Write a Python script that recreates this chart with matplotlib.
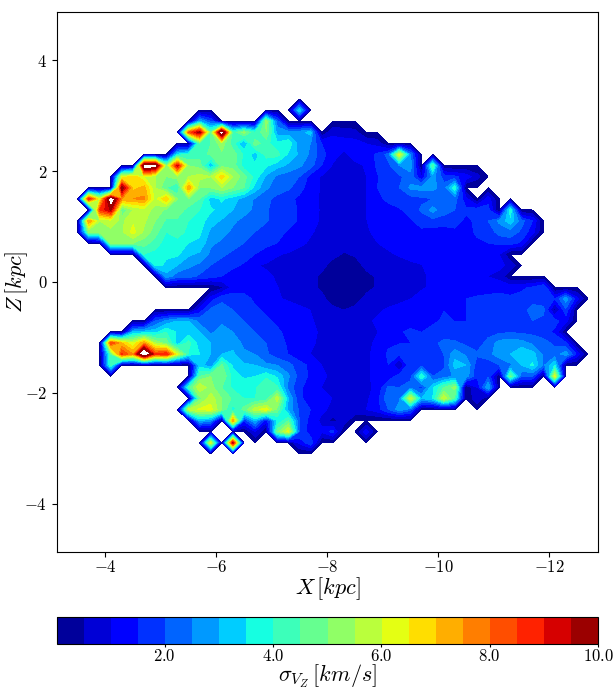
import matplotlib
matplotlib.use('Agg')
import matplotlib.pyplot as plt
import numpy as np

plt.rcParams['mathtext.fontset'] = 'cm'
plt.rcParams['font.family'] = ['DejaVu Serif']

# grid of the map
x_grid = -3.1 - 0.2 * np.arange(50)
z_grid = -4.9 + 0.2 * np.arange(50)

# one row per Z: Z, first X of the row, sigma values going towards -X (0 = no data)
z_rows = [3.1, 2.9, 2.7, 2.5, 2.3, 2.1, 1.9, 1.7, 1.5, 1.3, 1.1, 0.9, 0.7, 0.5, 0.3, 0.1,
          -0.1, -0.3, -0.5, -0.7, -0.9, -1.1, -1.3, -1.5, -1.7, -1.9, -2.1, -2.3, -2.5, -2.7, -2.9]
x_start = [-7.5, -5.7, -5.5, -5.7, -5.3, -4.7, -4.3, -4.3, -3.7, -3.9, -3.7, -3.7, -4.1, -4.7, -4.9, -5.1,
           -6.1, -5.9, -5.7, -4.9, -4.5, -4.1, -4.1, -4.1, -5.7, -5.5, -5.7, -5.5, -5.7, -6.7, -5.9]
sigma_rows = [
    [3.5],
    [3, 2, 0, 0, 0, 0, 5.3, 2.2],
    [8, 9.8, 4.5, 11.6, 4.2, 5.2, 4, 5, 2.8, 2.7, 2.8, 3.2, 0, .9, .8, .7],
    [4.5, 4.5, 5.3, 4.2, 2.9, 4.8, 4.2, 3.6, 3.9, 2.7, 2.5, 1.5, 1.2, 1.2, 1.2, 1, .8],
    [3.6, 4, 4.3, 4.6, 4.9, 4.8, 3.9, 3.2, 4.2, 4.2, 3.4, 2.9, 2.4, 1.7, 1.2, .9, 1.2, 1.2, 1.6, 2.2, 6.2, 2.5],
    [11.2, 11.2, 5, 9.3, 5, 4.8, 3, 4.8, 4.8, 3.7, 3.6, 3.6, 3.2, 2.9, 2.6, 2.2, 1.5, .95, .8, .9, 1.05, 1.6, 1.9,
     2.5, 2.8, 0, 4.5],
    [6, 6.8, 6, 5.5, 5, 5.3, 5.5, 5.7, 5.5, 6.8, 5.5, 4.7, 3.8, 2.9, 2.4, 2.2, 2, 1.3, .95, .8, .7, .85, 1, 1.45,
     1.8, 1.9, 2.3, 1, 2.7, 1.8, 1.6, 1.3, .7],
    [10.1, 6.8, 7.2, 5.5, 4.5, 3.9, 7.5, 5, 5, 5.5, 5, 4.5, 3.3, 2.6, 2.2, 2.1, 1.7, 1.25, .95, .8, .7, .85, 1, 1.5,
     2, 2, 2.6, 2.7, 2.7, 2.2, 3.9],
    [9, 6, 11.3, 7.5, 7.5, 7.6, 5.8, 7, 5, 5, 4.5, 3.2, 3.6, 3.2, 2.8, 2.45, 2.1, 1.9, 1.65, 1.4, 1.15, .95, .8, .6,
     .8, 1, 1.4, 1.6, 1.8, 1.8, 1.9, 2, 2, 2.2, 1.2, 0, 1.3],
    [8.5, 9.6, 4.5, 5.5, 5.8, 5.3, 4.9, 4.8, 4.3, 4, 3.6, 3.3, 3, 2.7, 2.4, 2.05, 1.85, 1.7, 1.45, 1.2, .95, .8, .6,
     .8, 1, 1.2, 1.35, 1.45, 1.7, 2.1, 2.7, 2.2, 2, 1.6, 1.8, 1.7, 0, 3.9],
    [7.5, 5.5, 5.7, 5.4, 5.9, 5.6, 5, 4.4, 4.4, 4, 3.8, 3.2, 2.95, 2.6, 2.35, 2.2, 2.05, 1.8, 1.65, 1.45, 1.15, .95,
     .8, .6, .8, 1, 1.1, 1.3, 1.3, 1.45, 1.7, 1.8, 1.8, 1.7, 1.4, 1.6, 2, 2.6, 3.3, 2.2, 1.5],
    [5, 5.4, 5.4, 5.4, 6.2, 5.4, 4.7, 4, 4.5, 3.7, 3.6, 2.9, 2.7, 2.4, 2.2, 2, 1.8, 1.65, 1.45, 1.25, 1.05, .9, .75,
     .65, .8, .95, 1.1, 1.1, 1.2, 1.2, 1.4, 1.3, 1.2, 1.4, 1.3, 1.6, 1.7, 2.2, 2.3, 1.9, 1.2],
    [5, 5, 5, 4.7, 4.3, 3.7, 3.6, 3.5, 3.4, 2.6, 2.4, 2.2, 2, 1.85, 1.65, 1.5, 1.3, 1.1, .95, .8, .7, .6, .7, .9, 1,
     1.1, 1.1, 1.1, 1.2, 1.3, 1.3, 1.2, 1.3, 1.4, 1.5, 1.6, 1.7, 1.4],
    [4, 3.8, 3.6, 3.6, 3.1, 2.9, 2.4, 2.1, 1.9, 1.7, 1.5, 1.25, 1.05, .95, .85, .75, .65, .6, .48, .55, .75, .85,
     .95, 1.05, 1.1, 1.1, 1.1, 1.1, 1.2, 1.2, 1.3, 1.2, 1],
    [3.7, 3.4, 3, 2.6, 2.4, 2, 1.8, 1.6, 1.45, 1.05, .95, .85, .75, .7, .6, .6, .4, .3, .35, .6, .75, .8, .85, .95, 1,
     1.1, 1.1, 1.1, 1.1, 1.1, 1.1, 1.1, .9],
    [2.8, 2.2, 2.2, 1.9, 1.7, 1.5, 1.3, 1.2, 1.15, 1.1, .95, .7, .7, .6, .45, .3, .25, .3, .4, .55, .8, .85, .9, .97,
     1.05, 1.1, 1.1, 1.1, 1.1, 1, .9],
    [.4, 1.2, 1.25, 1.25, 1.15, 1.02, .85, .75, .6, .45, .3, .25, .3, .4, .55, .8, .85, .9, .98, 1.05, 1.1, 1.2, 1.2,
     1.2, 1.2, 1.2, 1.3, 1.4, 1.6, 2],
    [1.2, 1.9, 1.8, 1.7, 1.4, 1.2, 1.05, .95, .85, .7, .6, .35, .3, .35, .6, .75, .85, .9, 1, 1.1, 1.1, 1.2, 1.3, 1.5,
     1.6, 1.7, 1.8, 1.6, 1.7, 1.8, 1.8, 1.5, 2.8, 1.2],
    [1.2, 2.1, 2.2, 2, 1.8, 1.6, 1.4, 1.3, 1.2, 1.1, 1, .8, .6, .5, .6, .8, .95, 1.05, 1.15, 1.2, 1.45, 1.5, 1.5, 1.5,
     1.5, 1.7, 1.6, 1.6, 1.7, 1.8, 2.2, 2.1, .3, 1.9],
    [2, 2.6, 3, 3, 2.3, 2.4, 2.4, 2.1, 2, 1.8, 1.6, 1.4, 1.2, 1.1, 1.05, .9, .7, .65, .75, .95, 1.05, 1.1, 1.2, 1.3,
     1.4, 1.45, 1.55, 1.5, 1.5, 1.6, 1.7, 1.8, 1.8, 1.9, 2, 1.9, 1.7, 1.2],
    [3, 3.2, 3.3, 4, 3.4, 3.2, 3, 2.4, 2.7, 2.5, 2.2, 2, 1.8, 1.6, 1.35, 1.2, 1.1, .95, .8, .7, .75, .9, 1, 1.2, 1.45,
     1.6, 1.5, 1.6, 1.6, 1.7, 1.6, 1.7, 1.8, 1.9, 1.95, 1.9, 1.85, 1.7, 1.4],
    [8.5, 7, 6, 7.5, 5.5, 4.8, 3.2, 4.2, 3.2, 3, 2.8, 2.8, 2.4, 2.3, 2, 1.8, 1.4, 1.2, 1.05, .95, .75, .7, .75, .95,
     1.05, 1.4, 1.5, 1.5, 1.6, 1.8, 2.2, 2.1, 1.9, 1.7, 2.2, 2.7, 2.8, 2.7, 2.4, 2.2, 1.9, 1.6],
    [4.5, 8.6, 7.5, 12.2, 8.5, 9, 6, 3.9, 3.5, 3, 3, 3.1, 2.6, 2.5, 2.1, 1.7, 1.5, 1.2, 1, .9, .7, .65, .7, .95, 1.1,
     1.6, 1.6, 1.7, 1.9, 1.8, 2, 2.8, 2.4, 2.1, 2.3, 2.8, 3, 3.5, 3.2, 2.4, 2.2, 2.8, 1.4],
    [4.2, 0, 0, 0, 0, 0, 0, 0, 3.3, 2.6, 4.6, 3.4, 3.1, 3, 2.6, 2.5, 2.2, 1.7, 1.4, 1, .85, .7, .75, .9, 1.2, 1.5,
     .4, 2, 1.8, 1.8, 1.9, 3.2, 3, 1.7, 1.7, 2, 2.4, 3, 3.6, 2.4, 3.5],
    [4.5, 5, 5, 3.8, 3.4, 3.5, 3.9, 3.4, 2.6, 1.8, 1.4, 1.1, .9, .75, .8, .9, 1.2, 1.1, 1.8, 1.8, 4, 2, 2.2, 2.6,
     2.8, 1.6, 1.9, 0, 4.7, 2.1, 2, 0, 6.2],
    [4.2, 6, 5.2, 4.5, 3.9, 3.9, 3.9, 4.5, 4.1, 2.3, 1.6, 1.3, 1, .9, .8, .8, .9, 1.1, 2.1, 2, 2.3, 1.8, 3.4, 4.5,
     5.2, 0, 1, 3],
    [4.8, 5.8, 5, 4.4, 4, 4, 4.2, 5.8, 3, 1.6, 1.3, 1.1, 1, .9, .9, .9, 1.3, 2.4, 2.4, 6, 3, 3.5, 6, 4.3, 0, .9],
    [5.7, 6.1, 6.2, 5, 3.7, 4.7, 5.8, 6.3, 4.8, 2.8, 1.9, 1.5, 1.1, .9, 1, 1, 1, 1.3, 2, 2.8, 2.2],
    [3, 2.6, 0, 7.5, 1.6, 3, 1.2, 3.5, 4.5, 2, 1.3, .9, .3, .8],
    [1, 0, 4.8, 6.2, 2, 1.2, 1.1, 1.7, 0, 0, 1.3],
    [6.2, 0, 9.6, 0, 0, 0, 0, 0, 1.1, 1.9],
]

cbar_ticks = [2.0, 4.0, 6.0, 8.0, 10.0]
x_ticks = [-4, -6, -8, -10, -12]
z_ticks = [-4, -2, 0, 2, 4]

# empty cells stay at 0, that gives the dark rim around the map
sigma = np.zeros((50, 50))
for zv, x0, vals in zip(z_rows, x_start, sigma_rows):
    row = int(round((zv + 4.9) / 0.2))
    col = int(round((-3.1 - x0) / 0.2))
    sigma[row, col:col + len(vals)] = vals

levels = np.linspace(0.01, 10, 21)

fig = plt.figure(figsize=(6.16, 6.96), dpi=100)
ax = fig.add_axes([57 / 616, 1 - 552 / 696, 541 / 616, 540 / 696])
cs = ax.contourf(x_grid, z_grid, sigma, levels=levels, cmap='jet', antialiased=False)
ax.set_xlim(-3.13, -12.88)
ax.set_ylim(-4.87, 4.87)
ax.set_xticks(x_ticks)
ax.set_xticklabels(['$%d$' % t for t in x_ticks], fontsize=12)
ax.set_yticks(z_ticks)
ax.set_yticklabels(['$%d$' % t for t in z_ticks], fontsize=12)
ax.tick_params(axis='x', pad=1.5)
ax.set_xlabel(r'$X\,[kpc]$', fontsize=16, va='center')
ax.xaxis.set_label_coords(0.5, -0.067)
ax.set_ylabel(r'$Z\,[kpc]$', fontsize=16, va='center')
ax.yaxis.set_label_coords(-0.074, 0.5)

cax = fig.add_axes([57 / 616, 1 - 644 / 696, 541 / 616, 27 / 696])
cb = fig.colorbar(cs, cax=cax, orientation='horizontal')
cb.set_ticks(cbar_ticks)
cb.set_ticklabels(['$%.1f$' % t for t in cbar_ticks], fontsize=12)
cb.ax.tick_params(length=2.5, pad=0.5)
cb.set_label(r'$\sigma_{V_Z}\,[km/s]$', fontsize=16, va='center')
cb.ax.xaxis.set_label_coords(0.5, -1.2)

fig.savefig('out.png', dpi=100)
